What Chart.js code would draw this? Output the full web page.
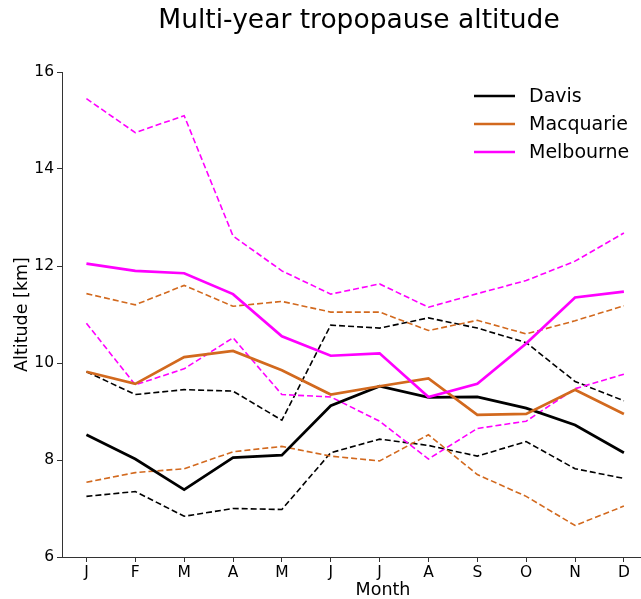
<!DOCTYPE html>
<html>
<head>
<meta charset="utf-8">
<script src="https://cdn.jsdelivr.net/npm/chart.js@4"></script>
<style>
html,body{margin:0;padding:0;background:#fff;}
#wrap{width:641px;height:599px;}
</style>
</head>
<body>
<div id="wrap"><canvas id="c" width="641" height="599"></canvas></div>
<script>
const months = ['J','F','M','A','M','J','J','A','S','O','N','D'];
const yTicks = [6, 8, 10, 12, 14, 16];

const davisMean  = [8.52, 8.02, 7.39, 8.05, 8.10, 9.12, 9.52, 9.29, 9.30, 9.07, 8.72, 8.15];
const davisHigh  = [9.82, 9.35, 9.45, 9.42, 8.82, 10.78, 10.72, 10.93, 10.72, 10.42, 9.62, 9.22];
const davisLow   = [7.25, 7.35, 6.84, 7.00, 6.98, 8.15, 8.43, 8.30, 8.08, 8.38, 7.82, 7.62];

const macqMean   = [9.82, 9.57, 10.12, 10.25, 9.85, 9.35, 9.52, 9.68, 8.93, 8.95, 9.45, 8.95];
const macqHigh   = [11.43, 11.20, 11.60, 11.17, 11.27, 11.05, 11.05, 10.67, 10.88, 10.60, 10.87, 11.18];
const macqLow    = [7.54, 7.74, 7.82, 8.17, 8.28, 8.08, 7.98, 8.52, 7.70, 7.25, 6.65, 7.05];

const melbMean   = [12.05, 11.90, 11.85, 11.42, 10.55, 10.15, 10.20, 9.30, 9.57, 10.40, 11.35, 11.47];
const melbHigh   = [15.45, 14.75, 15.10, 12.62, 11.90, 11.42, 11.63, 11.15, 11.43, 11.70, 12.10, 12.68];
const melbLow    = [10.82, 9.55, 9.88, 10.52, 9.35, 9.30, 8.80, 8.02, 8.65, 8.80, 9.47, 9.77];

const stations = ['Davis', 'Macquarie', 'Melbourne'];
const colors = ['#000000', '#D2691E', '#FF00FF'];

const FONT = "'DejaVu Sans', sans-serif";

function pts(arr){ return arr.map((v,i)=>({x:i, y:v})); }
function solid(label, arr, color, order){
  return {label, data: pts(arr), borderColor: color, backgroundColor: color, borderWidth: 2.7,
    pointRadius: 0, tension: 0, fill: false, order};
}
function dashed(label, arr, color, order){
  return {label, data: pts(arr), borderColor: color, backgroundColor: color, borderWidth: 1.6,
    borderDash: [6, 3], pointRadius: 0, tension: 0, fill: false, order};
}

const datasets = [
  dashed('Davis high', davisHigh, colors[0], 9),
  dashed('Davis low', davisLow, colors[0], 8),
  dashed('Macquarie high', macqHigh, colors[1], 7),
  dashed('Macquarie low', macqLow, colors[1], 6),
  dashed('Melbourne high', melbHigh, colors[2], 5),
  dashed('Melbourne low', melbLow, colors[2], 4),
  solid('Davis', davisMean, colors[0], 3),
  solid('Macquarie', macqMean, colors[1], 2),
  solid('Melbourne', melbMean, colors[2], 1)
];

const overlay = {
  id: 'overlay',
  afterDraw(chart){
    const ctx = chart.ctx;
    ctx.save();
    ctx.fillStyle = '#000';
    // title
    ctx.font = "26.5px " + FONT;
    ctx.textAlign = 'center';
    ctx.textBaseline = 'alphabetic';
    ctx.fillText('Multi-year tropopause altitude', 359, 28);
    // x axis title
    ctx.font = "17.5px " + FONT;
    ctx.fillText('Month', 383, 595);
    // legend
    ctx.font = "19px " + FONT;
    ctx.textAlign = 'left';
    ctx.textBaseline = 'middle';
    const rows = [96, 124, 152];
    stations.forEach((s, i) => {
      ctx.strokeStyle = colors[i];
      ctx.lineWidth = 2.7;
      ctx.beginPath();
      ctx.moveTo(474, rows[i]);
      ctx.lineTo(515, rows[i]);
      ctx.stroke();
      ctx.fillStyle = '#000';
      ctx.fillText(s, 529, rows[i] + 1);
    });
    ctx.restore();
  }
};

new Chart(document.getElementById('c'), {
  type: 'line',
  data: { datasets },
  options: {
    responsive: false,
    animation: false,
    devicePixelRatio: 1,
    layout: { padding: { top: 72, left: 0, right: 0, bottom: 0 } },
    plugins: { legend: { display: false }, title: { display: false }, tooltip: { enabled: false } },
    scales: {
      x: {
        type: 'linear',
        min: -0.5,
        max: 11.35,
        afterBuildTicks(scale){
          scale.ticks = months.map((m, i) => ({ value: i }));
        },
        afterFit(scale){ scale.height = 42; },
        ticks: {
          autoSkip: false,
          maxRotation: 0,
          padding: 2,
          color: '#000',
          font: { family: FONT, size: 15.5 },
          callback: (v) => months[v]
        },
        grid: { display: true, drawOnChartArea: false, drawTicks: true, tickLength: 5, color: '#333', tickWidth: 1 },
        border: { display: true, color: '#333', width: 1 },
        title: { display: false }
      },
      y: {
        type: 'linear',
        min: 6,
        max: 16,
        afterBuildTicks(scale){
          scale.ticks = yTicks.map(v => ({ value: v }));
        },
        afterFit(scale){ scale.width = 62; },
        ticks: {
          padding: 3,
          color: '#000',
          font: { family: FONT, size: 15.5 }
        },
        grid: { display: true, drawOnChartArea: false, drawTicks: true, tickLength: 5, color: '#333', tickWidth: 1 },
        border: { display: true, color: '#333', width: 1 },
        title: { display: true, text: 'Altitude [km]', color: '#000', font: { family: FONT, size: 17.5 }, padding: { top: 12, bottom: 0 } }
      }
    }
  },
  plugins: [overlay]
});
</script>
</body>
</html>
